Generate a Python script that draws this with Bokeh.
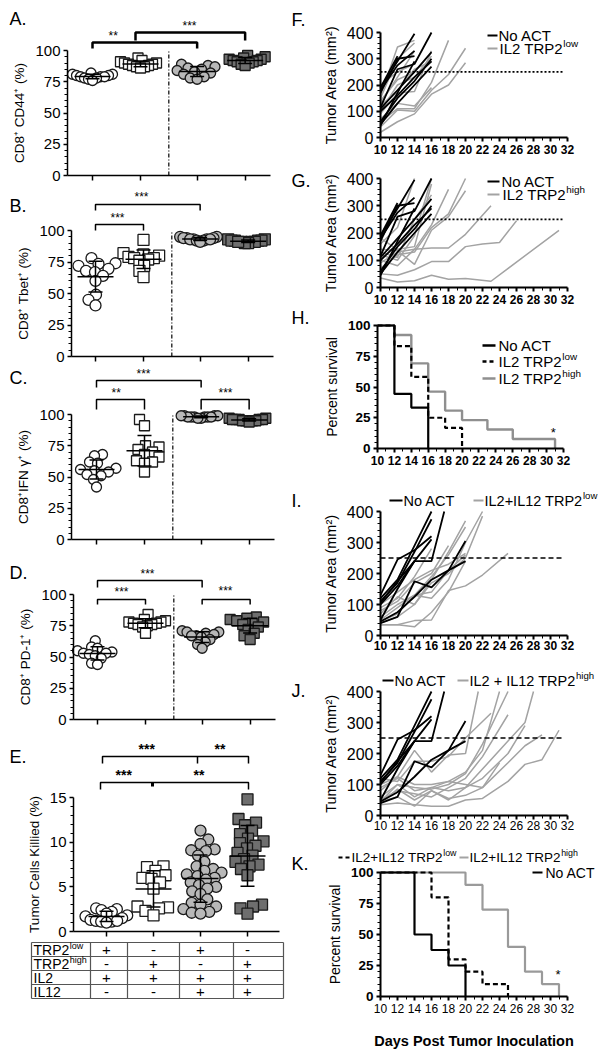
import numpy as np
from bokeh.plotting import figure
from bokeh.models import Range1d, LinearAxis, FixedTicker
from bokeh.layouts import row, column
from bokeh.embed import file_html
from bokeh.resources import INLINE
from bokeh.core.properties import value

FONT = "Liberation Sans"

# ---------------- DATA ----------------
group_names = ["IL2 TRP2low", "IL2 TRP2high", "IL2+IL12 TRP2low", "IL2+IL12 TRP2high"]

cd44_g1 = [82, 81, 81, 80, 80, 79, 79, 79, 78, 78, 77, 76]
cd44_g2 = [94, 92, 91, 90, 90, 89, 89, 88, 88, 87, 87, 86]
cd44_g3 = [89, 88, 87, 86, 85, 84, 83, 82, 81, 79, 78, 77]
cd44_g4 = [96, 95, 94, 93, 93, 92, 92, 91, 91, 90, 89, 88]

tbet_g1 = [78, 74, 73.5, 72, 69.6, 68, 67, 64, 60, 49, 45, 40.5]
tbet_g2 = [92.5, 82, 81, 80, 79, 78, 78, 77, 76, 72, 68, 63]
tbet_g3 = [95, 95, 94, 94, 94, 93, 93, 93, 92, 92, 91, 93]
tbet_g4 = [93, 93, 92, 92, 92, 91, 91, 91, 90, 90, 92, 91]

ifng_g1 = [68, 67, 62, 61, 57, 56, 55, 54, 52, 51, 48, 42]
ifng_g2 = [96, 91, 75, 74, 72, 70, 68, 66, 63, 62, 61, 54]
ifng_g3 = [99, 99, 99, 98, 98, 98, 98, 98, 98, 97, 97, 99]
ifng_g4 = [97, 97, 96, 96, 96, 96, 95, 95, 95, 95, 94, 96]

pd1_g1 = [63, 58, 57, 55, 54, 53, 53, 52, 51, 49, 45, 44]
pd1_g2 = [84, 80, 79, 78, 78, 77, 77, 76, 76, 75, 74, 69]
pd1_g3 = [71, 70, 70, 69, 68, 67, 67, 66, 64, 62, 60, 57]
pd1_g4 = [82, 81, 80, 79, 78, 77, 76, 74, 72, 69, 67, 64]

kill_g1 = [2.6, 2.5, 2.4, 2.2, 2.0, 1.8, 1.7, 1.5, 1.3, 1.2, 1.1, 1.1, 1.0, 1.2]
kill_g2 = [7.3, 7.2, 6.8, 6.3, 6.0, 5.9, 5.5, 4.8, 2.8, 2.7, 2.6, 2.3, 1.8]
kill_g3 = [11.3, 10.3, 9.8, 9.2, 9.1, 9.0, 8.5, 7.8, 7.3, 7.0, 6.8, 6.6, 6.4, 6.2, 6.0,
           5.8, 5.5, 5.2, 5.0, 4.8, 4.5, 4.2, 3.6, 3.2, 3.0, 2.8, 2.5, 2.2, 2.1, 2.0]
kill_g4 = [14.8, 12.6, 12.2, 11.9, 11.3, 10.9, 10.4, 10.1, 9.9, 9.6, 9.3, 8.8, 8.5, 8.1,
           7.8, 7.5, 7.3, 7.0, 6.3, 3.0, 2.8, 2.6, 2.0]

table_rows = ["TRP2", "TRP2", "IL2", "IL12"]
table_sups = ["low", "high", "", ""]
table_signs = [["+", "-", "+", "-"],
               ["-", "+", "-", "+"],
               ["+", "+", "+", "+"],
               ["-", "-", "+", "+"]]

# tumor growth, No ACT cohort 1 (F, G)
noact1_days = [[10, 12, 14], [10, 12, 14], [10, 12, 14], [10, 12, 14, 16], [10, 12, 14, 16],
               [10, 12, 14, 16], [10, 12, 14, 16], [10, 12, 14, 16], [10, 12, 14], [10, 12]]
noact1_area = [[190, 290, 395], [180, 275, 330], [170, 300, 310], [115, 260, 280, 400],
               [110, 180, 250, 325], [60, 150, 215, 300], [50, 130, 200, 270],
               [100, 160, 230, 290], [45, 170, 290], [190, 310]]
# IL2 TRP2low (F)
il2low_days = [[10, 12, 14], [10, 12, 14], [10, 12, 14], [10, 12, 14], [10, 12, 14, 16],
               [10, 12, 14, 16], [10, 12, 14, 16], [10, 12, 14, 16, 18],
               [10, 12, 14, 16, 18, 20], [10, 12, 14, 16, 18, 20], [10, 12, 14], [10, 12, 14, 16]]
il2low_area = [[160, 345, 370], [150, 300, 360], [130, 230, 330], [140, 220, 250],
               [100, 200, 230, 310], [90, 170, 175, 330], [70, 130, 120, 190],
               [60, 110, 110, 210, 370], [40, 105, 100, 180, 240, 340],
               [20, 60, 90, 165, 200, 285], [200, 250, 280], [120, 180, 260, 290]]
# IL2 TRP2high (G)
il2high_days = [[10, 12, 14], [10, 12, 14, 16], [10, 12, 14, 16], [10, 12, 14, 16],
                [10, 12, 14, 16, 18], [10, 12, 14, 16, 18, 20], [10, 12, 14, 16, 18, 20],
                [10, 12, 14, 16, 18, 20, 23], [10, 12, 14, 16, 18, 20, 22, 24, 26],
                [10, 12, 14, 16, 18, 20, 23, 31]]
il2high_area = [[160, 220, 400], [120, 100, 190, 400], [180, 140, 150, 380], [130, 110, 250, 340],
                [100, 80, 140, 230, 360], [70, 120, 130, 220, 270, 400], [140, 135, 85, 210, 260, 355],
                [90, 130, 140, 145, 145, 195, 300], [50, 45, 65, 95, 95, 150, 160, 165, 245],
                [35, 20, 25, 45, 30, 33, 23, 210]]
# No ACT cohort 2 (I, J)
noact2_days = [[10, 12, 14, 16], [10, 12, 14, 16], [10, 12, 14, 16], [10, 12, 14, 16],
               [10, 12, 14, 16, 17.5], [10, 12, 14, 16, 18, 20], [10, 12, 14, 16, 18, 20], [10, 12, 14]]
noact2_area = [[120, 180, 290, 400], [110, 170, 270, 375], [130, 245, 275, 320], [100, 160, 240, 310],
               [105, 175, 240, 240, 400], [40, 60, 175, 155, 210, 305], [45, 75, 125, 180, 210, 240],
               [50, 150, 240]]
# IL2+IL12 TRP2low (I)
il12low_days = [[10, 12, 14, 16], [10, 12, 14, 16, 18], [10, 12, 14, 16, 18, 20],
                [10, 12, 14, 16, 18, 20], [10, 12, 14, 16, 18, 20, 22], [10, 12, 14, 16, 18, 20, 22],
                [10, 12, 14, 16, 18, 20, 22, 25], [10, 12, 14, 16, 18, 20], [10, 12, 14, 16, 18, 20],
                [10, 12, 14, 16, 18, 20]]
il12low_area = [[90, 120, 190, 280], [80, 110, 170, 200, 290], [60, 100, 130, 190, 260, 350],
                [70, 125, 100, 180, 270, 370], [50, 90, 130, 120, 180, 300, 400],
                [40, 60, 100, 170, 200, 250, 385], [35, 35, 48, 50, 145, 160, 195, 265],
                [35, 35, 28, 75, 140, 240], [100, 140, 180, 210, 230, 265], [45, 70, 130, 140, 210, 260]]
# IL2+IL12 TRP2high (J)
il12high_days = [[10, 12, 14, 16, 18, 20, 21.5], [10, 12, 14, 16, 18, 20, 23],
                 [10, 12, 14, 16, 18, 20, 22, 24], [10, 12, 14, 16, 18, 20, 22, 25],
                 [10, 12, 14, 16, 18, 20, 22, 25], [10, 12, 14, 16, 18, 20, 22, 25, 27, 28],
                 [10, 12, 14, 16, 18, 20, 22, 25, 27], [10, 12, 14, 16, 18, 20, 22, 25, 27, 29],
                 [10, 12, 14, 16, 18, 20, 22, 25, 27, 29, 31], [10, 12, 14, 16, 18, 20, 22, 24]]
il12high_area = [[80, 125, 210, 140, 195, 200, 400], [120, 110, 175, 175, 190, 250, 330],
                 [90, 120, 80, 90, 110, 140, 210, 400], [60, 100, 90, 85, 100, 135, 230, 400],
                 [50, 80, 70, 60, 90, 120, 190, 325], [45, 100, 60, 90, 80, 90, 150, 240, 300, 400],
                 [40, 85, 50, 80, 50, 90, 120, 200, 290], [45, 60, 30, 80, 55, 65, 90, 170, 225, 260],
                 [35, 40, 35, 30, 30, 50, 55, 110, 165, 180, 275], [100, 125, 100, 100, 110, 100, 90, 170]]
threshold_area = 250

# survival H
h_noact_day = [10, 12, 14, 16]
h_noact_pct = [100, 44.4, 33.3, 0]
h_low_day = [10, 12, 14, 16, 18, 20]
h_low_pct = [100, 83.3, 58.3, 25, 16.7, 0]
h_high_day = [10, 12, 14, 16, 18, 20, 23, 26, 31]
h_high_pct = [100, 92.3, 69.2, 46.2, 30.8, 23.1, 15.4, 7.7, 0]
# survival K
k_noact_day = [10, 14, 16, 18, 20]
k_noact_pct = [100, 50, 37.5, 25, 0]
k_low_day = [10, 16, 18, 20, 22, 25]
k_low_pct = [100, 80, 30, 20, 10, 0]
k_high_day = [10, 20, 22, 25, 27, 29, 31]
k_high_pct = [100, 90, 70, 40, 20, 10, 0]

# ---------------- HELPERS ----------------
AW = {' ': 278, '+': 584, '-': 333, '1': 556, '2': 556, 'A': 667, 'C': 722, 'I': 278,
      'L': 556, 'N': 722, 'o': 556, 'P': 667, 'R': 722, 'T': 611}


def twidth(s, size):
    return sum(AW.get(c, 556) for c in s) * size / 1000.0


class Geo:
    """Figure covering [left, left+w] x [top, bottom] in page pixels; frame = whole figure."""
    def __init__(self, left, w, top, bottom, xpx, xval, sx, y0px, sy):
        self.left, self.w, self.top, self.bottom = left, w, top, bottom
        self.xpx, self.xval, self.sx, self.y0px, self.sy = xpx, xval, sx, y0px, sy

    def X(self, px):
        return self.xval + (px - self.xpx) / self.sx

    def Y(self, py):
        return (self.y0px - py) / self.sy

    def fig(self):
        p = figure(width=self.w, height=self.bottom - self.top,
                   x_range=Range1d(self.X(self.left), self.X(self.left + self.w)),
                   y_range=Range1d(self.Y(self.bottom), self.Y(self.top)),
                   min_border_left=0, min_border_right=0, min_border_top=0, min_border_bottom=0,
                   x_axis_type=None, y_axis_type=None,
                   toolbar_location=None, output_backend="svg")
        p.outline_line_color = None
        p.background_fill_color = "white"
        p.border_fill_color = "white"
        return p


def text(p, x, y, s, size, bold=False, align="left", color="black", baseline="middle"):
    p.text(x=[x], y=[y], text=[s], text_font=value(FONT), text_font_size=f"{size}px",
           text_font_style="bold" if bold else "normal", text_align=align,
           text_baseline=baseline, text_color=color)


def letter(p, g, s, px, py):
    text(p, g.X(px), g.Y(py), s, 18)


def style_axis(ax, tick_size, tick_bold, lw):
    ax.axis_line_width = lw
    ax.axis_line_color = "black"
    ax.major_tick_line_width = lw
    ax.major_tick_line_color = "black"
    ax.minor_tick_line_width = 1
    ax.minor_tick_line_color = "black"
    ax.major_tick_out = 4
    ax.major_tick_in = 0
    ax.minor_tick_out = 3
    ax.minor_tick_in = 0
    ax.major_label_text_font = FONT
    ax.major_label_text_font_size = tick_size
    ax.major_label_text_font_style = "bold" if tick_bold else "normal"
    ax.major_label_text_color = "black"
    ax.axis_label_text_font = FONT
    ax.axis_label_text_font_style = "normal"
    ax.axis_label_text_color = "black"


def y_axis(p, at, ticks, minor, bounds, label, tick_size, tick_bold, label_size, lw, standoff=5):
    ax = LinearAxis(ticker=FixedTicker(ticks=ticks, minor_ticks=minor), bounds=bounds,
                    fixed_location=at)
    style_axis(ax, tick_size, tick_bold, lw)
    ax.major_label_standoff = 3
    ax.axis_label = label
    ax.axis_label_text_font_size = label_size
    ax.axis_label_standoff = standoff
    p.add_layout(ax, "left")
    return ax


def x_axis(p, ticks, minor, bounds, tick_size, tick_bold, lw, labels=True, label=None,
           label_size="14px", label_standoff=6, tick_standoff=3):
    ax = LinearAxis(ticker=FixedTicker(ticks=ticks, minor_ticks=minor), bounds=bounds,
                    fixed_location=0)
    style_axis(ax, tick_size, tick_bold, lw)
    ax.major_label_standoff = tick_standoff
    if not labels:
        ax.major_tick_out = 5
        ax.major_label_overrides = {t: "" for t in ticks}
    if label:
        ax.axis_label = label
        ax.axis_label_text_font_size = label_size
        ax.axis_label_text_font_style = "bold"
        ax.axis_label_standoff = label_standoff
    p.add_layout(ax, "below")
    return ax


def swarm(vals, sy, d, maxw):
    order = sorted(range(len(vals)), key=lambda i: vals[i])
    placed = []
    offs = [0.0] * len(vals)
    for n, i in enumerate(order):
        y = vals[i] * sy
        chosen = 0.0
        for k in range(0, 400):
            if k == 0:
                cands = [0.0]
            else:
                cands = [k * 0.5, -k * 0.5] if n % 2 == 0 else [-k * 0.5, k * 0.5]
            found = None
            for c in cands:
                if all((c - ox) ** 2 + (y - oy) ** 2 >= (0.8 * d) ** 2 for ox, oy in placed):
                    found = c
                    break
            if found is not None:
                chosen = found
                break
        offs[i] = chosen
        placed.append((chosen, y))
    m = max(abs(o) for o in offs) or 1.0
    if m > maxw:
        offs = [o * maxw / m for o in offs]
    return offs


MARKERS = ["circle", "square", "circle", "square"]
FILLS = ["white", "white", "#b8b8b8", "#6e6e6e"]


def dots(p, g, groups, positions, d, maxw=20):
    for gi, vals in enumerate(groups):
        offs = swarm(vals, g.sy, d, maxw)
        xs = [positions[gi] + o / g.sx for o in offs]
        p.scatter(x=xs, y=vals, marker=MARKERS[gi], size=d, fill_color=FILLS[gi],
                  line_color="#1a1a1a", line_width=1.3)
    for gi, vals in enumerate(groups):
        m = float(np.mean(vals))
        s = float(np.std(vals, ddof=1))
        c = positions[gi]
        hw, cw = 18 / g.sx, 7 / g.sx
        p.segment(x0=[c - hw, c - cw, c - cw, c], y0=[m, m + s, m - s, m - s],
                  x1=[c + hw, c + cw, c + cw, c], y1=[m, m + s, m - s, m + s],
                  line_color="black", line_width=1.5)


def bracket(p, g, x1, x2, ypx, drop, lw=1.5, mids=()):
    y = g.Y(ypx)
    yd = g.Y(ypx + drop)
    p.multi_line(xs=[[x1, x1, x2, x2]], ys=[[yd, y, y, yd]], line_color="black", line_width=lw)
    for mx, mdrop, mlw in mids:
        p.segment(x0=[mx], y0=[y], x1=[mx], y1=[g.Y(ypx + mdrop)], line_color="black", line_width=mlw)


def legend_item(p, g, lx0, lx1, ly, color, dash, lw, tx, label, sup, size):
    p.segment(x0=[g.X(lx0)], y0=[g.Y(ly)], x1=[g.X(lx1)], y1=[g.Y(ly)],
              line_color=color, line_width=lw, line_dash=dash)
    text(p, g.X(tx), g.Y(ly), label, size)
    if sup:
        w = twidth(label, size)
        text(p, g.X(tx + w + 0.5), g.Y(ly - size * 0.33), sup, round(size * 0.66, 1))


# ---------------- LEFT COLUMN (A-E) ----------------
LC, LW = 0, 290
POS4 = [1, 2, 3.18, 4.18]
DIV = 2.59
AXEND = 4.71
YT = [0, 25, 50, 75, 100]
YM = [v for v in range(5, 100, 5) if v % 25]


def dot_panel(g, axis_px, groups, ylabel, letter_txt, letter_y, brs, stars, d=10):
    p = g.fig()
    dots(p, g, groups, POS4, d)
    p.segment(x0=[DIV], y0=[0], x1=[DIV], y1=[100], line_color="black", line_width=1.2,
              line_dash="4 2 1 2")
    ax0 = g.X(axis_px)
    y_axis(p, ax0, YT, YM, (0, 100), ylabel, "15px", False, "13.5px", 1.5)
    x_axis(p, POS4, [], (ax0, AXEND), "10px", False, 1.5, labels=False)
    for b in brs:
        bracket(p, g, *b)
    for sx_, sy_, st in stars:
        text(p, g.X(sx_), g.Y(sy_), st, 12)
    letter(p, g, letter_txt, 9, letter_y)
    return p


gA = Geo(LC, LW, 0, 185, 92, 1, 48, 175, 1.25)
pA = dot_panel(gA, 67, [cd44_g1, cd44_g2, cd44_g3, cd44_g4], "CD8\u207a CD44\u207a (%)", "A.", 18,
               [(POS4[0], POS4[2], 42, 6, 2.5), (gA.X(135), POS4[3], 32, 8, 2.5)],
               [(108, 35, "**"), (182, 25, "***")])

gB = Geo(LC, LW, 185, 365, 95, 1, 48, 356, 1.26)
pB = dot_panel(gB, 71, [tbet_g1, tbet_g2, tbet_g3, tbet_g4], "CD8\u207a Tbet\u207a (%)", "B.", 205,
               [(POS4[0], POS4[1], 224, 6), (POS4[0], POS4[2], 204, 6)],
               [(110, 217, "***"), (134, 196, "***")], d=11)

gC = Geo(LC, LW, 365, 548, 96, 1, 48, 539, 1.25)
pC = dot_panel(gC, 71, [ifng_g1, ifng_g2, ifng_g3, ifng_g4], "CD8\u207aIFN \u03b3\u207a (%)", "C.", 377,
               [(POS4[0], POS4[2], 380, 7), (POS4[0], POS4[1], 399, 10), (POS4[2], POS4[3], 399, 10)],
               [(136, 373, "***"), (111, 392, "**"), (218, 392, "***")])

gD = Geo(LC, LW, 548, 728, 97, 1, 48, 719, 1.25)
pD = dot_panel(gD, 73, [pd1_g1, pd1_g2, pd1_g3, pd1_g4], "CD8\u207a PD-1\u207a (%)", "D.", 572,
               [(POS4[0], POS4[2], 580, 7), (POS4[0], POS4[1], 599, 5), (POS4[2], POS4[3], 599, 5)],
               [(140, 573, "***"), (114, 591, "***"), (218, 590, "***")])

# E
gE = Geo(LC, LW, 728, 940, 106, 1, 47, 931, 8.93)
pE = gE.fig()
POSE = [1, 2, 3, 4]
dots(pE, gE, [kill_g1, kill_g2, kill_g3, kill_g4], POSE, 11, maxw=21)
e_ax = gE.X(73)
y_axis(pE, e_ax, [0, 5, 10, 15], [v for v in range(1, 15) if v % 5], (0, 15), "Tumor Cells Killied (%)",
       "15px", False, "13.5px", 1.5)
x_axis(pE, POSE, [], (e_ax, 4.68), "10px", False, 1.5, labels=False)
bracket(pE, gE, gE.X(102), gE.X(248), 756, 7, 1.5, mids=[(gE.X(197), 7, 1.5)])
bracket(pE, gE, gE.X(100), gE.X(248), 782, 7, 1.5, mids=[(gE.X(152), 4, 3)])
for sx_, sy_, st in [(138, 748, "***"), (214, 748, "**"), (115, 774, "***"), (193, 774, "**")]:
    text(pE, gE.X(sx_), gE.Y(sy_), st, 14, bold=True)
letter(pE, gE, "E.", 9, 756)

# table
gT = Geo(LC, LW, 940, 1010, 106, 1, 47, 998, 14)
pT = gT.fig()
col_px = [31, 90, 127, 179, 233, 283]
col_x = [gT.X(c) for c in col_px]
nrow = len(table_rows)
pT.segment(x0=[col_x[0]] * (nrow + 1), y0=list(range(nrow + 1)),
           x1=[col_x[-1]] * (nrow + 1), y1=list(range(nrow + 1)), line_color="#555", line_width=1.2)
pT.segment(x0=col_x, y0=[0] * len(col_x), x1=col_x, y1=[nrow] * len(col_x), line_color="#555", line_width=1.2)
for ri, (lab, sup) in enumerate(zip(table_rows, table_sups)):
    yc = nrow - ri - 0.5
    text(pT, gT.X(33), yc, lab, 14)
    if sup:
        w = twidth(lab, 14)
        text(pT, gT.X(33 + w + 0.5), yc + 0.22, sup, 9)
    for ci, sgn in enumerate(table_signs[ri]):
        text(pT, POSE[ci], yc, sgn, 15, align="center")

# ---------------- RIGHT COLUMN (F-K) ----------------
RC, RW = 290, 317
XT = list(range(10, 33, 2))
XM = list(range(11, 32, 2))
GRAY = "#a3a3a3"


def growth_panel(g, axis_px, bxs, bys, gxs, gys, dash, thr_end, xbold, letter_txt, letter_y, tstand=3):
    p = g.fig()
    p.multi_line(xs=gxs, ys=gys, line_color=GRAY, line_width=1.5)
    p.multi_line(xs=bxs, ys=bys, line_color="black", line_width=1.8)
    p.segment(x0=[10], y0=[threshold_area], x1=[thr_end], y1=[threshold_area],
              line_color="black", line_width=1.6, line_dash=dash)
    y_axis(p, g.X(axis_px), [0, 100, 200, 300, 400], [v for v in range(20, 400, 20) if v % 100], (0, 400),
           "Tumor Area (mm\u00b2)", "16px", False, "14.5px", 2)
    x_axis(p, XT, XM, (10, 32), "12px", xbold, 2, tick_standoff=tstand)
    letter(p, g, letter_txt, 291, letter_y)
    return p


gF = Geo(RC, RW, 0, 165, 380, 10, 8.5, 137, 0.2625)
pF = growth_panel(gF, 380, noact1_days, noact1_area, il2low_days, il2low_area, "2 2", 31.5, True, "F.", 19)
legend_item(pF, gF, 487, 497, 35, "black", "solid", 2, 498, "No ACT", "", 15)
legend_item(pF, gF, 487, 497, 48, GRAY, "solid", 2, 499, "IL2 TRP2", "low", 15)

gG = Geo(RC, RW, 165, 308, 380, 10, 8.5, 287, 0.2725)
pG = growth_panel(gG, 380, noact1_days, noact1_area, il2high_days, il2high_area, "2 2", 31.5, True, "G.", 180)
legend_item(pG, gG, 487, 499, 181, "black", "solid", 2, 501, "No ACT", "", 15)
legend_item(pG, gG, 487, 499, 194, GRAY, "solid", 2, 502, "IL2 TRP2", "high", 15)

# H survival
gH = Geo(RC, RW, 308, 470, 377, 10, 8.4545, 448, 1.23)
pH = gH.fig()
pH.step(x=h_high_day, y=h_high_pct, mode="after", line_color="#8f8f8f", line_width=2.4)
pH.step(x=h_noact_day, y=h_noact_pct, mode="after", line_color="black", line_width=2.2)
pH.step(x=h_low_day, y=h_low_pct, mode="after", line_color="black", line_width=2.2, line_dash="5 3")
text(pH, 30.8, 13, "*", 13, align="center")
y_axis(pH, 10, YT, YM, (0, 100), "Percent survival", "13.5px", True, "14px", 2)
x_axis(pH, XT, XM, (10, 32), "12px", True, 2)
legend_item(pH, gH, 482, 495, 345, "black", "solid", 2.5, 498, "No ACT", "", 15)
legend_item(pH, gH, 482, 495, 361, "black", "4 3", 2.5, 498, "IL2 TRP2", "low", 15)
legend_item(pH, gH, 482, 495, 378, "#8f8f8f", "solid", 2.5, 498, "IL2 TRP2", "high", 15)
letter(pH, gH, "H.", 291, 317)

gI = Geo(RC, RW, 470, 655, 380, 10, 8.5, 635, 0.31)
pI = growth_panel(gI, 380, noact2_days, noact2_area, il12low_days, il12low_area, "5 3", 31.4, True, "I.", 500, 1)
legend_item(pI, gI, 389, 402, 500, "black", "solid", 1.8, 403, "No ACT", "", 14.5)
legend_item(pI, gI, 473, 483, 500, GRAY, "solid", 1.8, 484, "IL2+IL12 TRP2", "low", 14.5)

gJ = Geo(RC, RW, 655, 838, 380, 10, 8.5, 815, 0.31)
pJ = growth_panel(gJ, 380, noact2_days, noact2_area, il12high_days, il12high_area, "5 3", 31.4, False, "J.", 690, 1)
legend_item(pJ, gJ, 382, 393, 680, "black", "solid", 1.8, 394, "No ACT", "", 14.5)
legend_item(pJ, gJ, 457, 468, 680, GRAY, "solid", 1.8, 469, "IL2 + IL12 TRP2", "high", 14.5)

# K survival
gK = Geo(RC, RW, 838, 1050, 380, 10, 8.5, 996, 1.24)
pK = gK.fig()
pK.step(x=k_high_day, y=k_high_pct, mode="after", line_color="#9a9a9a", line_width=2.2)
pK.step(x=k_low_day, y=k_low_pct, mode="after", line_color="black", line_width=2.2, line_dash="5 3")
pK.step(x=k_noact_day, y=k_noact_pct, mode="after", line_color="black", line_width=2.2)
text(pK, 30.9, 18, "*", 13, align="center")
y_axis(pK, 10, YT, YM, (0, 100), "Percent survival", "13.5px", True, "14px", 2)
x_axis(pK, XT, XM, (10, 32), "12px", False, 2, label="Days Post Tumor Inoculation",
       label_size="14.5px", label_standoff=17, tick_standoff=3)
legend_item(pK, gK, 338, 350, 857, "black", "4 3", 2, 351, "IL2+IL12 TRP2", "low", 13.5)
legend_item(pK, gK, 459, 468, 857, GRAY, "solid", 2, 469, "IL2+IL12 TRP2", "high", 13.5)
legend_item(pK, gK, 532, 542, 872, "black", "solid", 2, 545, "No ACT", "", 14)
letter(pK, gK, "K.", 291, 863)

left = column(pA, pB, pC, pD, pE, pT, spacing=0)
right = column(pF, pG, pH, pI, pJ, pK, spacing=0)
layout = row(left, right, spacing=0)

open("out.html", "w").write(file_html(layout, INLINE))
